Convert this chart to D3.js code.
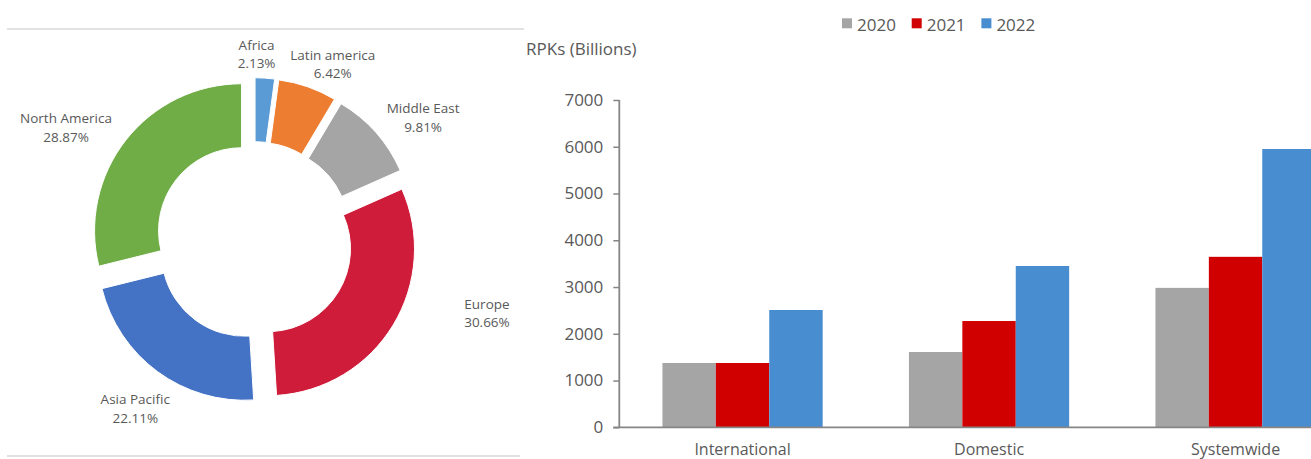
<!DOCTYPE html>
<html><head><meta charset="utf-8">
<script src="https://cdn.jsdelivr.net/npm/d3@7"></script>
<style>
body{margin:0;background:#fff}
svg{display:block}
text{font-family:'Open Sans',sans-serif;fill:#595959}
</style>
</head><body>
<svg id="c" width="1311" height="459"></svg>
<script>
// ---- data ----
const regions = ["Africa", "Latin america", "Middle East", "Europe", "Asia Pacific", "North America"];
const regionShares = [2.13, 6.42, 9.81, 30.66, 22.11, 28.87];
const categories = ["International", "Domestic", "Systemwide"];
const years = ["2020", "2021", "2022"];
const rpk2020 = [1375, 1610, 2982];
const rpk2021 = [1375, 2273, 3646];
const rpk2022 = [2509, 3450, 5952];
const yTickValues = [0, 1000, 2000, 3000, 4000, 5000, 6000, 7000];

// ---- styles / layout ----
const regionColors = ["#5b9bd5", "#ed7d31", "#a5a5a5", "#cf1c3a", "#4472c4", "#70ad47"];
const yearColors = ["#a5a5a5", "#d00000", "#488dd0"];
// label placement: polar (degrees clockwise from top, radius) from donut centre
const labelPolar = [[0.8, 186.5], [24.1, 193], [54, 209], [107.3, 244], [215.2, 206], [301, 219.3]];

const svg = d3.select("#c");
svg.append("rect").attr("width", 1311).attr("height", 459).attr("fill", "#fff");

// ---- left panel: doughnut ----
svg.append("line").attr("x1", 7).attr("x2", 524).attr("y1", 29).attr("y2", 29)
  .attr("stroke", "#d9d9d9").attr("stroke-width", 1.5);
svg.append("line").attr("x1", 7).attr("x2", 520).attr("y1", 456).attr("y2", 456)
  .attr("stroke", "#d9d9d9").attr("stroke-width", 1.5);

const cx = 254, cy = 240.5, R = 147, r = 83, explode = 15.8;
const pie = d3.pie().sort(null).value(d => d)(regionShares);
const arc = d3.arc().innerRadius(r).outerRadius(R);
const dg = svg.append("g").attr("transform", `translate(${cx},${cy})`);
dg.selectAll("path").data(pie).join("path")
  .attr("d", arc)
  .attr("fill", (d, i) => regionColors[i])
  .attr("stroke", "#fff").attr("stroke-width", 1)
  .attr("transform", d => {
    const a = (d.startAngle + d.endAngle) / 2;
    return `translate(${explode * Math.sin(a)},${-explode * Math.cos(a)})`;
  });

const lab = dg.selectAll("text.lab").data(pie).join("text").attr("class", "lab")
  .attr("text-anchor", "middle").style("font-size", "13.5px")
  .attr("transform", (d, i) => {
    const a = labelPolar[i][0] * Math.PI / 180, rr = labelPolar[i][1];
    return `translate(${rr * Math.sin(a)},${-rr * Math.cos(a)})`;
  });
lab.append("tspan").attr("x", 0).attr("y", -4.5).text((d, i) => regions[i]);
lab.append("tspan").attr("x", 0).attr("y", 14).text((d, i) => d3.format(".2f")(regionShares[i]) + "%");

// ---- right panel: bars ----
const x0 = 619.3, yBase = 427.3, yTop = 100;
const y = d3.scaleLinear().domain([0, 7000]).range([yBase, yTop]);
const xb = d3.scaleBand().domain(categories).range([x0, x0 + 3 * 246.5]).paddingInner(0.35).paddingOuter(0.175);
const xs = d3.scaleBand().domain(years).range([0, xb.bandwidth()]).padding(0);
const series = [rpk2020, rpk2021, rpk2022];

const bg = svg.append("g");
categories.forEach((c, ci) => {
  bg.append("g").attr("transform", `translate(${xb(c)},0)`)
    .selectAll("rect").data(years).join("rect")
    .attr("x", yr => xs(yr)).attr("width", xs.bandwidth())
    .attr("y", (yr, si) => y(series[si][ci]))
    .attr("height", (yr, si) => yBase - y(series[si][ci]))
    .attr("fill", (yr, si) => yearColors[si]);
});

const axisColor = "#868686";
const ya = svg.append("g").attr("transform", `translate(${x0},0)`)
  .call(d3.axisLeft(y).tickValues(yTickValues).tickSize(6).tickPadding(10).tickFormat(d3.format("d")));
ya.select(".domain").remove();
ya.selectAll(".tick line").attr("stroke", axisColor).attr("stroke-width", 1.5);
ya.selectAll(".tick text").style("font-size", "17px").attr("fill", "#595959").style("font-family", "'Open Sans',sans-serif");
svg.append("line").attr("x1", x0).attr("x2", x0).attr("y1", yTop).attr("y2", yBase)
  .attr("stroke", axisColor).attr("stroke-width", 1.8);
svg.append("line").attr("x1", x0 - 6).attr("x2", 1311).attr("y1", yBase).attr("y2", yBase)
  .attr("stroke", axisColor).attr("stroke-width", 1.8);

svg.selectAll("text.cat").data(categories).join("text").attr("class", "cat")
  .attr("x", c => xb(c) + xb.bandwidth() / 2).attr("y", 455)
  .attr("text-anchor", "middle").style("font-size", "16px").text(c => c);

svg.append("text").attr("x", 526).attr("y", 55).style("font-size", "17px").text("RPKs (Billions)");

// legend
const lg = svg.append("g").selectAll("g").data(years).join("g")
  .attr("transform", (d, i) => `translate(${842 + i * 69.7},0)`);
lg.append("rect").attr("x", 0).attr("y", 18.3).attr("width", 10).attr("height", 10).attr("fill", (d, i) => yearColors[i]);
lg.append("text").attr("x", 15).attr("y", 30.5).style("font-size", "17px").text(d => d);
</script>
</body></html>
